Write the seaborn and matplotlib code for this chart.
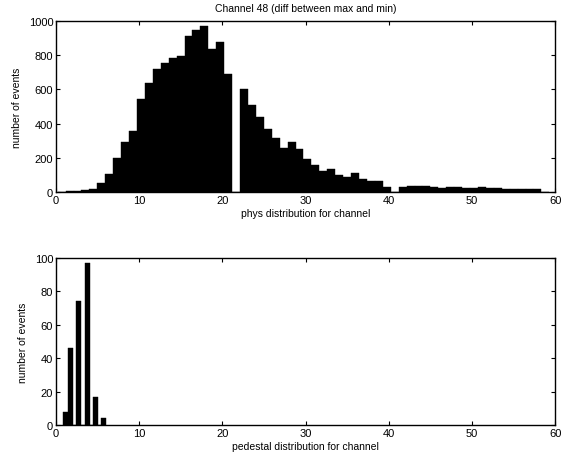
import numpy as np
import pandas as pd
import seaborn as sns
import matplotlib
matplotlib.use("Agg")
import matplotlib.pyplot as plt

# phys histogram: 62 equal bins between phys_lo and phys_hi
phys_lo, phys_hi = 0.2, 59.3
phys_counts = [2, 4, 7, 9, 18,
               55, 108, 200, 290, 355, 545, 635, 720, 755, 785, 795, 910, 950, 970, 835, 880, 690,
               0,
               600, 508, 439, 370, 315, 256, 295, 252, 193, 157, 124, 134, 98, 88, 110, 79, 65, 65, 30,
               0,
               30, 33, 33, 35, 30, 25, 30, 27, 21, 23, 28, 21, 23, 19, 17, 18, 15, 19, 3]

# pedestal histogram
ped_centers = [1.2, 1.8, 2.75, 3.75, 4.75, 5.72]
ped_counts = [8, 46, 74, 97, 17, 4]
ped_width = 0.6

title = "Channel 48 (diff between max and min)"
top_xlabel = "phys distribution for channel"
bottom_xlabel = "pedestal distribution for channel"
ylabel = "number of events"

sns.set_style("ticks")
plt.rcParams["font.family"] = ["Liberation Sans", "DejaVu Sans"]
plt.rcParams["font.size"] = 7.5
plt.rcParams["text.color"] = "black"
plt.rcParams["axes.labelcolor"] = "black"
plt.rcParams["xtick.color"] = "black"
plt.rcParams["ytick.color"] = "black"
plt.rcParams["xtick.direction"] = "in"
plt.rcParams["ytick.direction"] = "in"
plt.rcParams["xtick.major.size"] = 3
plt.rcParams["ytick.major.size"] = 3
plt.rcParams["axes.linewidth"] = 1.0

fig = plt.figure(figsize=(5.64, 4.64), dpi=100)
ax1 = fig.add_axes([0.0993, 0.584, 0.885, 0.3686])
ax2 = fig.add_axes([0.0993, 0.0819, 0.885, 0.3601])

# top: phys distribution
edges = np.linspace(phys_lo, phys_hi, len(phys_counts) + 1)
phys_df = pd.DataFrame({"x": (edges[:-1] + edges[1:]) / 2, "w": phys_counts})
sns.histplot(data=phys_df, x="x", weights="w", bins=edges.tolist(), color="black",
             alpha=1, edgecolor="black", linewidth=0.3, ax=ax1)
ax1.set_xlim(0, 60)
ax1.set_ylim(0, 1000)
ax1.set_xticks(range(0, 61, 10))
ax1.set_yticks(range(0, 1001, 200))
ax1.set_title(title, fontsize=7.5, pad=7)
ax1.set_xlabel(top_xlabel, fontsize=7.5, labelpad=2)
ax1.set_ylabel(ylabel, fontsize=7.5, labelpad=5)

# bottom: pedestal distribution
pc = np.array(ped_centers)
ped_edges = np.unique(np.round(np.concatenate([pc - ped_width / 2, pc + ped_width / 2]), 3))
ped_df = pd.DataFrame({"x": pc, "w": ped_counts})
sns.histplot(data=ped_df, x="x", weights="w", bins=ped_edges.tolist(), color="black",
             alpha=1, edgecolor="black", linewidth=0.3, ax=ax2)
ax2.set_xlim(0, 60)
ax2.set_ylim(0, 100)
ax2.set_xticks(range(0, 61, 10))
ax2.set_yticks(range(0, 101, 20))
ax2.set_xlabel(bottom_xlabel, fontsize=7.5, labelpad=2)
ax2.set_ylabel(ylabel, fontsize=7.5, labelpad=5)

for ax in (ax1, ax2):
    for s in ax.spines.values():
        s.set_visible(True)
        s.set_color("black")
    ax.tick_params(top=True, right=True, labelsize=8, width=0.8, pad=2)

fig.savefig("out.png", dpi=100, facecolor="white")
